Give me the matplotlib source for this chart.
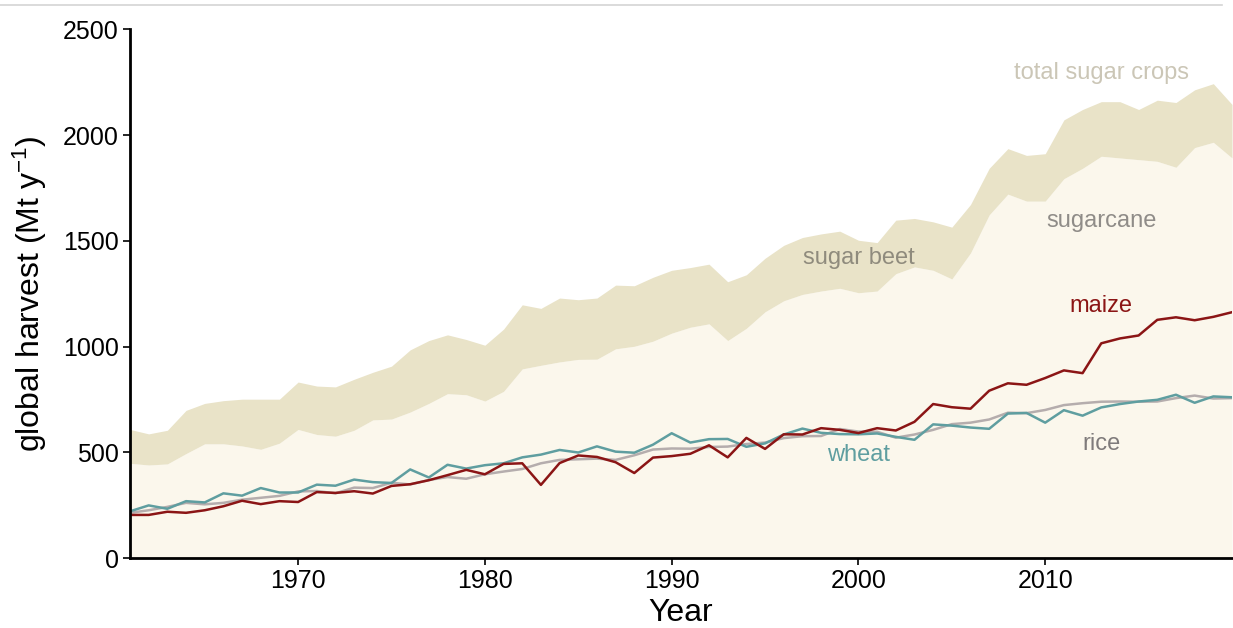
import numpy as np
import matplotlib
matplotlib.use("Agg")
import matplotlib.pyplot as plt
from matplotlib.lines import Line2D

years = list(range(1961, 2021))

sugarcane = [449, 441, 446, 495, 541, 541, 531, 515, 544, 609,
             585, 577, 605, 654, 658, 691, 732, 778, 773, 743,
             789, 895, 912, 928, 940, 941, 990, 1002, 1026, 1064,
             1092, 1108, 1029, 1087, 1165, 1217, 1247, 1263, 1276, 1255,
             1263, 1345, 1377, 1361, 1320, 1443, 1623, 1721, 1688, 1688,
             1794, 1843, 1900, 1892, 1884, 1876, 1848, 1941, 1966, 1892]

sugar_beet = [160, 147, 159, 204, 191, 204, 221, 237, 208, 224,
              229, 233, 241, 225, 250, 294, 297, 278, 261, 264,
              294, 303, 269, 302, 282, 289, 301, 286, 302, 297,
              282, 282, 278, 253, 253, 262, 269, 270, 270, 248,
              229, 253, 229, 229, 245, 229, 220, 215, 216, 224,
              278, 278, 258, 266, 237, 289, 306, 273, 277, 253]

maize = [205, 205, 220, 215, 227, 246, 272, 256, 270, 266,
         313, 309, 317, 306, 342, 350, 369, 393, 418, 397,
         446, 449, 347, 450, 486, 479, 454, 403, 476, 483,
         494, 534, 477, 569, 517, 586, 585, 615, 607, 592,
         615, 604, 645, 729, 714, 707, 792, 827, 820, 852,
         888, 875, 1016, 1039, 1053, 1127, 1139, 1125, 1141, 1163]

wheat = [222, 250, 234, 270, 264, 307, 296, 332, 311, 311,
         348, 343, 372, 360, 356, 420, 382, 442, 424, 440,
         449, 477, 490, 512, 500, 529, 504, 499, 537, 591,
         547, 563, 564, 527, 543, 585, 613, 593, 587, 586,
         590, 574, 560, 633, 627, 618, 612, 684, 687, 641,
         700, 674, 713, 729, 741, 749, 773, 735, 765, 761]

rice = [215, 227, 243, 262, 255, 262, 277, 286, 295, 316,
        318, 307, 334, 332, 357, 349, 370, 384, 376, 397,
        410, 422, 449, 465, 468, 471, 465, 487, 514, 519,
        518, 526, 528, 540, 547, 568, 577, 578, 611, 599,
        598, 570, 585, 607, 634, 641, 656, 688, 686, 701,
        724, 733, 740, 741, 740, 741, 757, 769, 755, 757]

x_ticks = [1970, 1980, 1990, 2000, 2010]
y_ticks = [0, 500, 1000, 1500, 2000, 2500]

FONT = ["Liberation Sans", "DejaVu Sans"]
plt.rcParams["font.family"] = FONT
plt.rcParams["mathtext.fontset"] = "custom"
plt.rcParams["mathtext.rm"] = "Liberation Sans"
plt.rcParams["mathtext.it"] = "Liberation Sans:italic"
plt.rcParams["mathtext.bf"] = "Liberation Sans:bold"

fig = plt.figure(figsize=(12.33, 6.28), dpi=100)
ax = fig.add_axes([130/1233, (628-558.3)/628, (1232-130)/1233, (558.3-29.3)/628])

yr = np.array(years)
cane = np.array(sugarcane)
total = cane + np.array(sugar_beet)

ax.fill_between(yr, 0, cane, color="#fbf7ec", linewidth=0)
ax.fill_between(yr, cane, total, color="#e9e3c8", linewidth=0)

ax.plot(yr, rice, color="#b5adad", lw=1.8)
ax.plot(yr, wheat, color="#5f9ea0", lw=1.8)
ax.plot(yr, maize, color="#8b1515", lw=1.8)

ax.set_xlim(1961, 2020)
ax.set_ylim(0, 2500)
ax.set_xticks(x_ticks)
ax.set_yticks(y_ticks)
ax.tick_params(axis="both", labelsize=18, length=5, width=1.2, color="black",
               labelcolor="black", pad=3)
for s in ["top", "right"]:
    ax.spines[s].set_visible(False)
for s in ["left", "bottom"]:
    ax.spines[s].set_linewidth(2)
    ax.spines[s].set_color("black")

ax.set_xlabel("Year", fontsize=23, labelpad=3)
ax.set_ylabel(r"global harvest (Mt y$^{\mathrm{-1}}$)", fontsize=23, labelpad=10)

lab = dict(fontsize=17, ha="center", va="center")
ax.text(2013, 2294, "total sugar crops", color="#cbc6b6", **lab)
ax.text(2013, 1594, "sugarcane", color="#8f8c88", **lab)
ax.text(2000, 1419, "sugar beet", color="#8f8b7d", **lab)
ax.text(2013, 1192, "maize", color="#8b1515", **lab)
ax.text(2000, 488, "wheat", color="#5f9ea0", **lab)
ax.text(2013, 540, "rice", color="#7f7b7b", **lab)

fig.add_artist(Line2D([0, 1222/1233], [1-5/628, 1-5/628], transform=fig.transFigure,
                      color="#d4d4d4", lw=1.2))

fig.savefig("out.png", dpi=100)
